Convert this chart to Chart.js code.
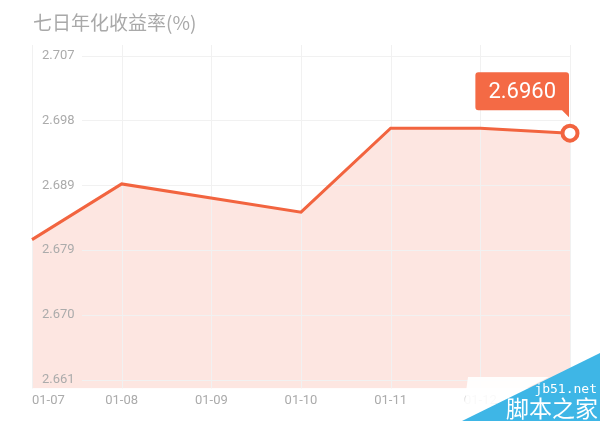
<!DOCTYPE html>
<html>
<head>
<meta charset="utf-8">
<script src="https://cdn.jsdelivr.net/npm/chart.js@4.4.1/dist/chart.umd.min.js"></script>
<style>
  html, body { margin: 0; padding: 0; background: #fff; }
  #wrap { position: relative; width: 600px; height: 421px; overflow: hidden; }
  #title {
    position: absolute; left: 33px; top: 8px;
    font: 19px "Noto Sans CJK SC", "Noto Sans", sans-serif;
    color: #a9a9a9; line-height: 28px;
  }
  #yieldChart { position: absolute; left: 0; top: 0; }
  #ghost {
    position: absolute; left: 0; top: 0; width: 600px; height: 421px;
    background: rgba(255, 255, 255, 0.93);
    clip-path: polygon(468px 377px, 549px 377px, 462px 421px);
  }
  #mark {
    position: absolute; left: 0; top: 0; width: 600px; height: 421px;
    background: #3eb6e6;
    clip-path: polygon(462px 421px, 600px 353px, 600px 421px);
  }
  #mark .site {
    position: absolute; right: 3px; top: 381px;
    font: 13px "DejaVu Sans Mono", monospace; color: #fff;
  }
  #mark .name {
    position: absolute; right: 2px; top: 392px;
    font: 23px "Noto Sans CJK SC", sans-serif; color: #fff; line-height: 30px;
  }
</style>
</head>
<body>
<div id="wrap">
  <canvas id="yieldChart" width="600" height="421"></canvas>
  <div id="title">七日年化收益率(%)</div>
  <div id="ghost"></div>
  <div id="mark"><span class="site">jb51.net</span><span class="name">脚本之家</span></div>
</div>
<script>
// chart data
const dates = ['01-07', '01-08', '01-09', '01-10', '01-11', '01-12', '01-13'];
const rates = [2.6809, 2.6888, null, 2.6848, 2.6967, 2.6967, 2.6960];
const yTicks = [2.6610, 2.6702, 2.6794, 2.6886, 2.6978, 2.7070];

const lineColor = '#f2643f';
const boxColor = '#f46a45';
const gridColor = '#f1f1f1';
const labelColor = '#ababab';

// grid lines drawn over the fill, horizontal ones start after the labels
const gridOverFill = {
  id: 'gridOverFill',
  beforeDatasetsDraw(chart) {
    const { ctx, chartArea, scales } = chart;
    ctx.save();
    ctx.strokeStyle = gridColor;
    ctx.lineWidth = 1;
    scales.x.ticks.forEach((t, i) => {
      const x = Math.round(scales.x.getPixelForTick(i)) + 0.5;
      ctx.beginPath();
      ctx.moveTo(x, chartArea.top);
      ctx.lineTo(x, chartArea.bottom);
      ctx.stroke();
    });
    yTicks.forEach(v => {
      const y = Math.round(scales.y.getPixelForValue(v)) + 0.5;
      ctx.beginPath();
      ctx.moveTo(chartArea.left + 50, y);
      ctx.lineTo(chartArea.right, y);
      ctx.stroke();
    });
    ctx.restore();
  }
};

// value bubble above the latest point
const latestBubble = {
  id: 'latestBubble',
  afterDatasetsDraw(chart) {
    const { ctx } = chart;
    const pts = chart.getDatasetMeta(0).data;
    const last = rates.length - 1;
    const p = pts[last];
    const text = rates[last].toFixed(4);
    ctx.save();
    ctx.font = '22px Roboto, "Noto Sans", sans-serif';
    const w = ctx.measureText(text).width + 26;
    const h = 38;
    const right = p.x - 1;
    const bottom = p.y - 23;
    const left = right - w;
    const top = bottom - h;
    const r = 3;
    ctx.fillStyle = boxColor;
    ctx.beginPath();
    ctx.moveTo(left + r, top);
    ctx.lineTo(right - r, top);
    ctx.quadraticCurveTo(right, top, right, top + r);
    ctx.lineTo(right, bottom + 7);
    ctx.lineTo(right - 7, bottom);
    ctx.lineTo(left + r, bottom);
    ctx.quadraticCurveTo(left, bottom, left, bottom - r);
    ctx.lineTo(left, top + r);
    ctx.quadraticCurveTo(left, top, left + r, top);
    ctx.closePath();
    ctx.fill();
    ctx.fillStyle = '#fff';
    ctx.textAlign = 'center';
    ctx.textBaseline = 'middle';
    ctx.fillText(text, (left + right) / 2, (top + bottom) / 2 + 1);
    ctx.restore();
  }
};

const ctx = document.getElementById('yieldChart').getContext('2d');
const yieldChart = new Chart(ctx, {
  type: 'line',
  data: {
    labels: dates,
    datasets: [{
      data: rates,
      borderColor: lineColor,
      borderWidth: 3,
      backgroundColor: '#fde6e1',
      fill: 'start',
      tension: 0,
      spanGaps: true,
      clip: false,
      pointRadius: rates.map((v, i) => i === rates.length - 1 ? 7.5 : 0),
      pointHoverRadius: 0,
      pointBackgroundColor: '#fff',
      pointBorderColor: lineColor,
      pointBorderWidth: 4
    }]
  },
  options: {
    responsive: false,
    animation: false,
    layout: { padding: { left: 12, right: 30, top: 45, bottom: 7 } },
    plugins: {
      legend: { display: false },
      tooltip: { enabled: false },
      filler: { drawTime: 'beforeDatasetsDraw' }
    },
    scales: {
      x: {
        offset: false,
        grid: { display: false, drawTicks: false },
        border: { display: false },
        ticks: {
          z: 1,
          align: 'inner',
          autoSkip: false,
          maxRotation: 0,
          padding: 5,
          color: labelColor,
          font: { size: 13, family: 'Roboto, "Noto Sans", sans-serif' }
        }
      },
      y: {
        min: 2.6598,
        max: 2.7085,
        grid: { display: false, drawTicks: false },
        border: { display: false },
        afterBuildTicks: axis => {
          axis.ticks = yTicks.map(v => ({ value: v }));
        },
        ticks: {
          z: 1,
          mirror: true,
          padding: 10,
          color: labelColor,
          font: { size: 13, family: 'Roboto, "Noto Sans", sans-serif' },
          callback: v => v.toFixed(3)
        }
      }
    }
  },
  plugins: [gridOverFill, latestBubble]
});
</script>
</body>
</html>
